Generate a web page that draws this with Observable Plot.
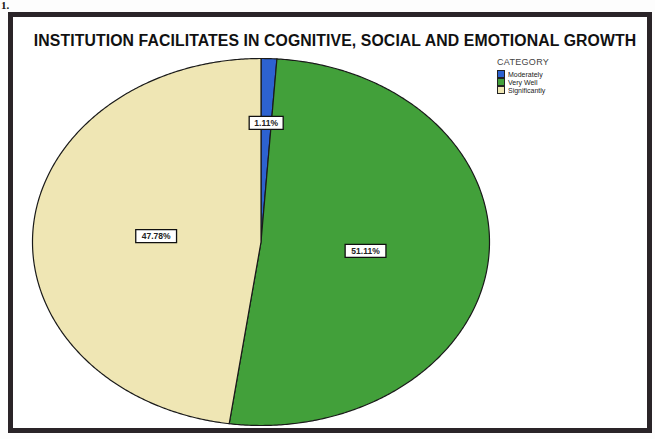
<!DOCTYPE html>
<html>
<head>
<meta charset="utf-8">
<script src="https://cdn.jsdelivr.net/npm/d3@7"></script>
<script src="https://cdn.jsdelivr.net/npm/@observablehq/plot@0.6"></script>
<style>
  html, body { margin: 0; padding: 0; background: #fdfdfd; }
  #wrap { position: relative; width: 655px; height: 439px; overflow: hidden; font-family: "Liberation Sans", Arial, sans-serif; }
  #frame { position: absolute; left: 8px; top: 12px; width: 634px; height: 411px; border: 5px solid #2a2428; background: #fff; }
  #num { position: absolute; left: 1px; top: 0px; font: bold 11px "Liberation Serif", serif; color: #111; line-height: 11px; }
  #title { position: absolute; left: 28px; top: 32px; width: 614px; text-align: center; font-weight: bold; font-size: 15.8px; color: #111; white-space: nowrap; letter-spacing: 0.1px; }
  #legend { position: absolute; left: 497px; top: 57px; color: #333; }
  #legend .head { font-size: 9px; letter-spacing: 0.3px; color: #444; margin-bottom: 3px; }
  #legend .item { display: flex; align-items: center; height: 8px; font-size: 7px; color: #222; }
  #legend .sw { width: 6px; height: 6px; border: 1px solid #222; margin-right: 3px; }
  #chart { position: absolute; left: 0; top: 0; }
</style>
</head>
<body>
<div id="wrap">
  <div id="frame"></div>
  <div id="num">1.</div>
  <div id="title"></div>
  <div id="legend"></div>
  <div id="chart"></div>
</div>
<script>
const chartTitle = "INSTITUTION FACILITATES IN COGNITIVE, SOCIAL AND EMOTIONAL GROWTH";
const legendTitle = "CATEGORY";
const categories = ["Moderately", "Very Well", "Significantly"];
const percents = [1.11, 51.11, 47.78];
const percentLabels = ["1.11%", "51.11%", "47.78%"];
const colors = ["#2d62d0", "#42a03a", "#efe6b4"];

// build slices (clockwise from 12 o'clock, like SPSS)
const total = d3.sum(percents);
let acc = 0;
const slices = categories.map((c, i) => {
  const a0 = acc / total * 2 * Math.PI;
  acc += percents[i];
  const a1 = acc / total * 2 * Math.PI;
  return {cat: c, a0, a1, pct: percents[i], label: percentLabels[i]};
});

const pts = [];
for (const s of slices) {
  pts.push({cat: s.cat, x: 0, y: 0});
  const n = Math.max(2, Math.ceil((s.a1 - s.a0) / (Math.PI / 360)));
  for (let k = 0; k <= n; k++) {
    const a = s.a0 + (s.a1 - s.a0) * k / n;
    pts.push({cat: s.cat, x: Math.sin(a), y: Math.cos(a)});
  }
  pts.push({cat: s.cat, x: 0, y: 0});
}

const labelPts = slices.map(s => {
  const m = (s.a0 + s.a1) / 2;
  const r = s.pct < 5 ? 0.65 : 0.46;
  return {label: s.label, x: r * Math.sin(m), y: r * Math.cos(m)};
});

const boxSymbol = {
  draw(context, size) {
    const r = Math.sqrt(size / Math.PI);
    context.rect(-r, -6.5, 2 * r, 13);
  }
};

const plot = Plot.plot({
  width: 655,
  height: 439,
  margin: 0,
  style: {background: "transparent", overflow: "visible"},
  x: {domain: [-1, 1], range: [32, 489], axis: null},
  y: {domain: [-1, 1], range: [425, 58], axis: null},
  color: {domain: categories, range: colors},
  marks: [
    Plot.line(pts, {x: "x", y: "y", z: "cat", fill: "cat", stroke: "#1a1a1a", strokeWidth: 1.2, curve: "linear"}),
    ...labelPts.map(d => Plot.dot([d], {x: "x", y: "y", r: d.label.length * 3.4, symbol: boxSymbol, fill: "#fff", stroke: "#111", strokeWidth: 1.3})),
    Plot.text(labelPts, {x: "x", y: "y", text: "label", fontSize: 8.5, fontWeight: "bold", fill: "#222", fontFamily: "Liberation Sans, Arial, sans-serif"})
  ]
});
document.getElementById("chart").appendChild(plot);

document.getElementById("title").textContent = chartTitle;
const lg = document.getElementById("legend");
const head = document.createElement("div");
head.className = "head";
head.textContent = legendTitle;
lg.appendChild(head);
categories.forEach((c, i) => {
  const it = document.createElement("div");
  it.className = "item";
  const sw = document.createElement("span");
  sw.className = "sw";
  sw.style.background = colors[i];
  const t = document.createElement("span");
  t.textContent = c;
  it.appendChild(sw);
  it.appendChild(t);
  lg.appendChild(it);
});
</script>
</body>
</html>
